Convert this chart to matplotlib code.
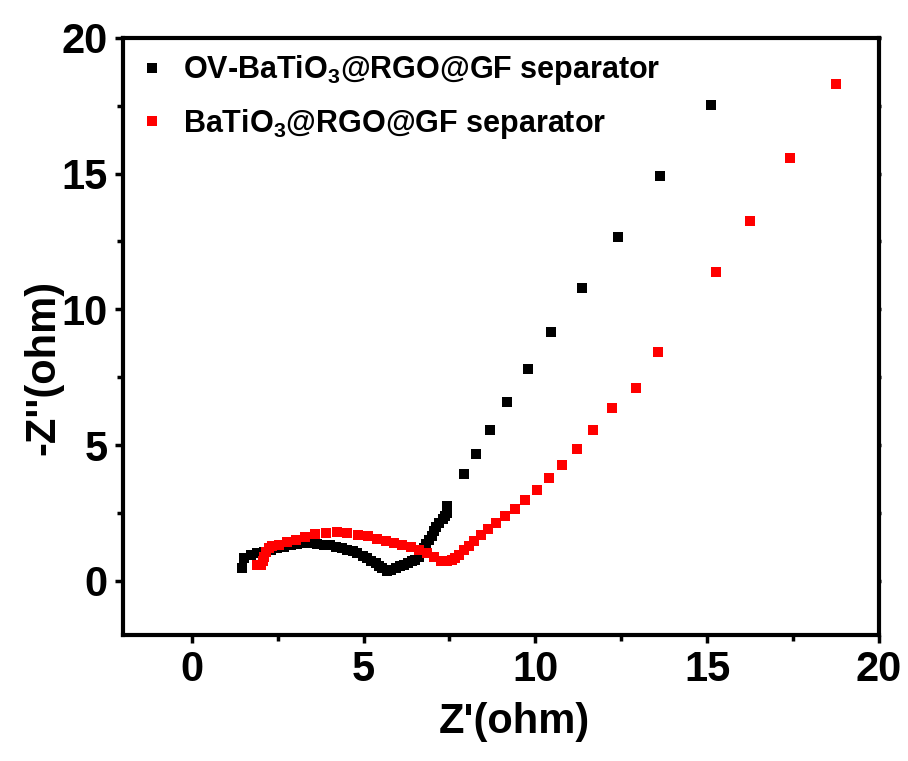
import numpy as np
import matplotlib.pyplot as plt
from matplotlib.ticker import MultipleLocator

plt.rcParams['font.family'] = ['Liberation Sans', 'DejaVu Sans']
plt.rcParams['font.weight'] = 'bold'
plt.rcParams['mathtext.fontset'] = 'custom'
plt.rcParams['mathtext.rm'] = 'Liberation Sans:bold'

# Nyquist data, OV-BaTiO3@RGO@GF separator
ov_zre = [1.47, 1.52, 1.72, 1.91, 2.09, 2.30, 2.47, 2.68, 2.88, 3.07, 3.26, 3.46,
          3.65, 3.85, 4.01, 4.19, 4.36, 4.53, 4.68, 4.82, 4.97, 5.11, 5.23, 5.35,
          5.45, 5.54, 5.69, 5.81, 5.93, 6.05, 6.17, 6.29, 6.42, 6.51, 6.61, 6.69,
          6.75, 6.83, 6.90, 6.98, 7.04, 7.12, 7.19, 7.30, 7.38, 7.43, 7.43,
          7.92, 8.26, 8.67, 9.18, 9.80, 10.47, 11.37, 12.40, 13.63, 15.10]
ov_zim = [0.47, 0.84, 0.96, 1.02, 1.07, 1.14, 1.22, 1.26, 1.33, 1.36, 1.38, 1.39,
          1.36, 1.33, 1.30, 1.26, 1.22, 1.14, 1.09, 1.02, 0.92, 0.84, 0.74, 0.65,
          0.55, 0.47, 0.34, 0.41, 0.47, 0.53, 0.59, 0.64, 0.71, 0.77, 0.87, 1.03,
          1.20, 1.36, 1.51, 1.66, 1.82, 1.97, 2.13, 2.27, 2.37, 2.50, 2.74,
          3.95, 4.68, 5.54, 6.57, 7.81, 9.17, 10.78, 12.68, 14.92, 17.52]

# Nyquist data, BaTiO3@RGO@GF separator
bt_zre = [1.91, 2.01, 2.06, 2.10, 2.15, 2.24, 2.35, 2.54, 2.78, 3.02, 3.31, 3.60,
          3.92, 4.22, 4.53, 4.83, 5.13, 5.40, 5.64, 5.88, 6.13, 6.37, 6.61, 6.85,
          7.04, 7.24, 7.43, 7.58, 7.67, 7.79, 7.92, 8.06, 8.22, 8.41, 8.63, 8.86,
          9.12, 9.40, 9.69, 10.04, 10.39, 10.78, 11.20, 11.68, 12.24, 12.93,
          13.56, 15.26, 16.26, 17.40, 18.76]
bt_zim = [0.59, 0.59, 0.74, 0.88, 1.07, 1.22, 1.27, 1.33, 1.41, 1.51, 1.61, 1.72,
          1.76, 1.79, 1.76, 1.69, 1.63, 1.54, 1.45, 1.39, 1.33, 1.26, 1.14, 1.02,
          0.87, 0.74, 0.71, 0.75, 0.85, 0.95, 1.12, 1.29, 1.47, 1.67, 1.89, 2.11,
          2.37, 2.65, 2.98, 3.35, 3.78, 4.27, 4.87, 5.55, 6.38, 7.10,
          8.42, 11.38, 13.27, 15.57, 18.31]

fig = plt.figure(figsize=(9.08, 7.61), dpi=100)
ax = fig.add_axes([0.1355, 0.1656, 0.8325, 0.7845])

ax.plot(ov_zre, ov_zim, 's', color='black', ms=6.5, mew=0,
        label=r'OV-BaTiO$_3$@RGO@GF separator')
ax.plot(bt_zre, bt_zim, 's', color='red', ms=6.5, mew=0,
        label=r'BaTiO$_3$@RGO@GF separator')

ax.set_xlim(-2, 20)
ax.set_ylim(-2, 20)
ax.xaxis.set_major_locator(MultipleLocator(5))
ax.xaxis.set_minor_locator(MultipleLocator(2.5))
ax.yaxis.set_major_locator(MultipleLocator(5))
ax.yaxis.set_minor_locator(MultipleLocator(2.5))

for s in ax.spines.values():
    s.set_linewidth(3)
ax.tick_params(which='major', direction='out', length=6, width=2.5,
               labelsize=30, pad=5)
ax.tick_params(which='minor', direction='out', length=4, width=2.5)
ax.tick_params(which='both', top=True, right=True,
               labeltop=False, labelright=False)
# barely visible ticks on the top and right edges
for tl in ax.xaxis.get_majorticklines()[1::2] + ax.xaxis.get_minorticklines()[1::2]:
    tl.set_markersize(1.5)
for tl in ax.yaxis.get_majorticklines()[1::2] + ax.yaxis.get_minorticklines()[1::2]:
    tl.set_markersize(1.5)

ax.set_xlabel("Z'(ohm)", fontsize=30, fontweight='bold', va='center')
ax.set_ylabel("-Z''(ohm)", fontsize=30, fontweight='bold', va='center')
ax.xaxis.set_label_coords(0.518, -0.145)
ax.yaxis.set_label_coords(-0.106, 0.448)

leg = ax.legend(loc='upper left', frameon=False, fontsize=22,
                handlelength=0.4, handletextpad=0.8, markerscale=1.0,
                borderaxespad=0.1, labelspacing=0.65,
                bbox_to_anchor=(0.01, 1.0))

fig.savefig('out.png', dpi=100)
